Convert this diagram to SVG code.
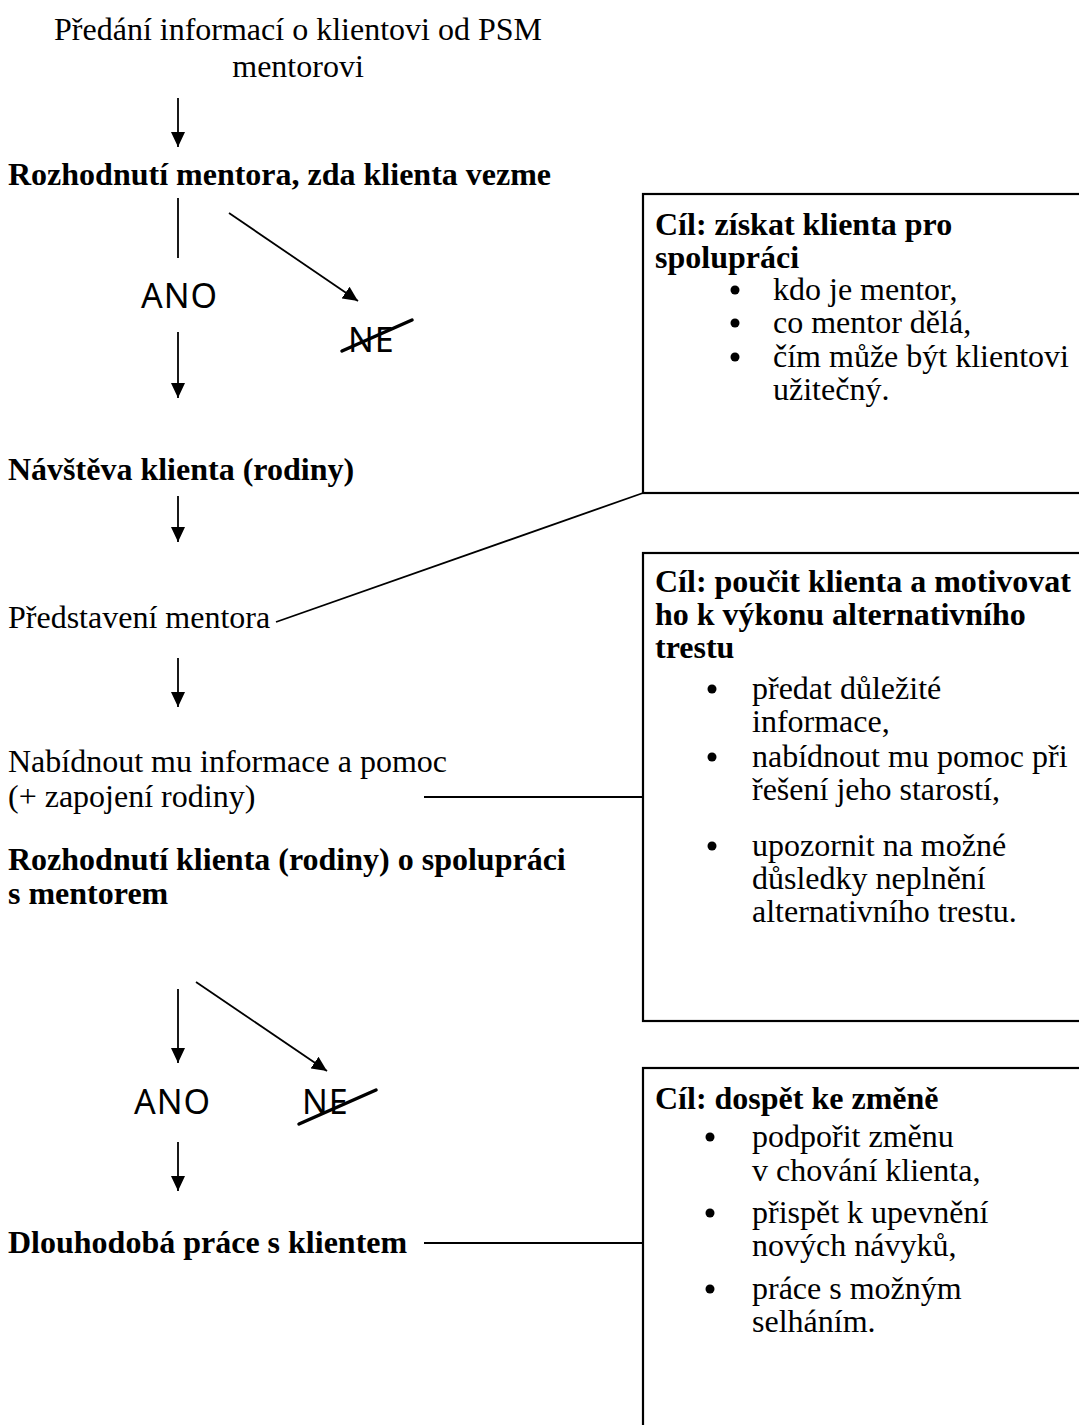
<svg xmlns="http://www.w3.org/2000/svg" width="1079" height="1425" viewBox="0 0 1079 1425">
<style>
  .t { font-family: "Liberation Serif", "Times New Roman", serif; font-size: 32px; fill: #000; }
  .b { font-weight: bold; }
  .h { font-family: "Comic Sans MS", "Noto Sans", "DejaVu Sans", sans-serif; font-size: 34px; fill: #000; letter-spacing: 1px; }
  .ln { stroke: #000; stroke-width: 1.8; fill: none; }
  .box { stroke: #000; stroke-width: 2.2; fill: #fff; }
  .strike { stroke: #000; stroke-width: 3.5; stroke-linecap: round; }
  .dot { fill: #000; }
</style>
<defs>
  <marker id="ah" markerUnits="userSpaceOnUse" markerWidth="16" markerHeight="16" viewBox="0 0 16 16" refX="15" refY="8" orient="auto">
    <path d="M0,1 L15,8 L0,15 Z" fill="#000"/>
  </marker>
</defs>

<g id="connectors">
  <line class="ln" x1="178" y1="98" x2="178" y2="147" marker-end="url(#ah)"/>
  <line class="ln" x1="178" y1="198" x2="178" y2="258"/>
  <line class="ln" x1="229" y1="213" x2="358" y2="301" marker-end="url(#ah)"/>
  <line class="ln" x1="178" y1="332" x2="178" y2="398" marker-end="url(#ah)"/>
  <line class="ln" x1="178" y1="496" x2="178" y2="542" marker-end="url(#ah)"/>
  <line class="ln" x1="276" y1="622" x2="643" y2="493"/>
  <line class="ln" x1="178" y1="658" x2="178" y2="707" marker-end="url(#ah)"/>
  <line class="ln" x1="424" y1="797" x2="643" y2="797"/>
  <line class="ln" x1="178" y1="989" x2="178" y2="1063" marker-end="url(#ah)"/>
  <line class="ln" x1="196" y1="982" x2="327" y2="1071" marker-end="url(#ah)"/>
  <line class="ln" x1="178" y1="1142" x2="178" y2="1191" marker-end="url(#ah)"/>
  <line class="ln" x1="424" y1="1243" x2="643" y2="1243"/>
</g>

<g id="n-predani">
  <text class="t" x="298" y="40" text-anchor="middle">Předání informací o klientovi od PSM</text>
  <text class="t" x="298" y="77" text-anchor="middle">mentorovi</text>
</g>

<g id="n-rozhodnuti-mentora">
  <text class="t b" x="8" y="185">Rozhodnutí mentora, zda klienta vezme</text>
</g>

<g id="n-ano1">
  <text class="h" x="141" y="308">ANO</text>
</g>

<g id="n-ne1">
  <text class="h" x="348" y="352">NE</text>
  <line class="strike" x1="342" y1="351" x2="412" y2="320"/>
</g>

<g id="n-navsteva">
  <text class="t b" x="8" y="480">Návštěva klienta (rodiny)</text>
</g>

<g id="n-predstaveni">
  <text class="t" x="8" y="628">Představení mentora</text>
</g>

<g id="n-nabidnout">
  <text class="t" x="8" y="772">Nabídnout mu informace a pomoc</text>
  <text class="t" x="8" y="807">(+ zapojení rodiny)</text>
</g>

<g id="n-rozhodnuti-klienta">
  <text class="t b" x="8" y="870">Rozhodnutí klienta (rodiny) o spolupráci</text>
  <text class="t b" x="8" y="904">s mentorem</text>
</g>

<g id="n-ano2">
  <text class="h" x="134" y="1114">ANO</text>
</g>

<g id="n-ne2">
  <text class="h" x="302" y="1114">NE</text>
  <line class="strike" x1="299" y1="1124" x2="376" y2="1090"/>
</g>

<g id="n-dlouhodoba">
  <text class="t b" x="8" y="1253">Dlouhodobá práce s klientem</text>
</g>

<g id="box-1">
  <rect class="box" x="643" y="194" width="445" height="299"/>
  <text class="t b" x="655" y="235">Cíl: získat klienta pro</text>
  <text class="t b" x="655" y="268">spolupráci</text>
  <circle class="dot" cx="735" cy="290" r="4.5"/>
  <text class="t" x="773" y="300">kdo je mentor,</text>
  <circle class="dot" cx="735" cy="323" r="4.5"/>
  <text class="t" x="773" y="333">co mentor dělá,</text>
  <circle class="dot" cx="735" cy="357" r="4.5"/>
  <text class="t" x="773" y="367">čím může být klientovi</text>
  <text class="t" x="773" y="400">užitečný.</text>
</g>

<g id="box-2">
  <rect class="box" x="643" y="553" width="445" height="468"/>
  <text class="t b" x="655" y="592">Cíl: poučit klienta a motivovat</text>
  <text class="t b" x="655" y="625">ho k výkonu alternativního</text>
  <text class="t b" x="655" y="658">trestu</text>
  <circle class="dot" cx="712" cy="689" r="4.5"/>
  <text class="t" x="752" y="699">předat důležité</text>
  <text class="t" x="752" y="732">informace,</text>
  <circle class="dot" cx="712" cy="757" r="4.5"/>
  <text class="t" x="752" y="767">nabídnout mu pomoc při</text>
  <text class="t" x="752" y="800">řešení jeho starostí,</text>
  <circle class="dot" cx="712" cy="846" r="4.5"/>
  <text class="t" x="752" y="856">upozornit na možné</text>
  <text class="t" x="752" y="889">důsledky neplnění</text>
  <text class="t" x="752" y="922">alternativního trestu.</text>
</g>

<g id="box-3">
  <rect class="box" x="643" y="1068" width="445" height="380"/>
  <text class="t b" x="655" y="1109">Cíl: dospět ke změně</text>
  <circle class="dot" cx="710" cy="1137" r="4.5"/>
  <text class="t" x="752" y="1147">podpořit změnu</text>
  <text class="t" x="752" y="1181">v chování klienta,</text>
  <circle class="dot" cx="710" cy="1213" r="4.5"/>
  <text class="t" x="752" y="1223">přispět k upevnění</text>
  <text class="t" x="752" y="1256">nových návyků,</text>
  <circle class="dot" cx="710" cy="1289" r="4.5"/>
  <text class="t" x="752" y="1299">práce s možným</text>
  <text class="t" x="752" y="1332">selháním.</text>
</g>
</svg>
